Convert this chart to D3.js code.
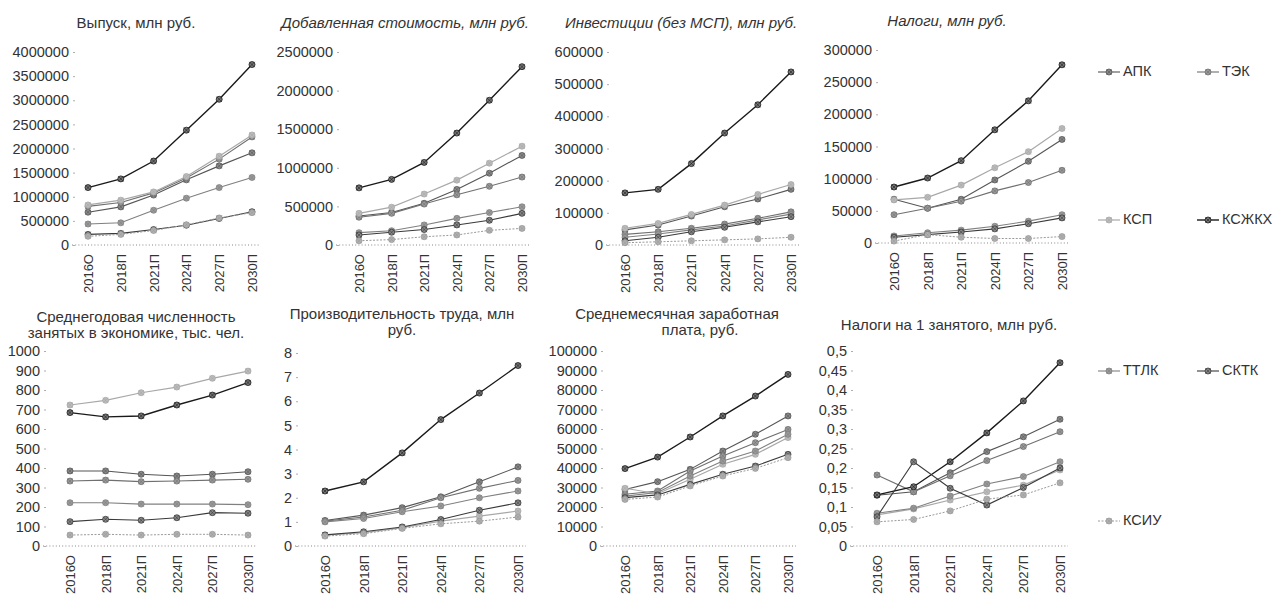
<!DOCTYPE html>
<html><head><meta charset="utf-8">
<script src="https://cdn.jsdelivr.net/npm/d3@7"></script>
<style>
body{margin:0;background:#fff;}
svg{font-family:"Liberation Sans",Arial,sans-serif;}
</style></head>
<body>
<svg id="c" width="1272" height="598"></svg>
<script>
const categories = ["2016О","2018П","2021П","2024П","2027П","2030П"];
const seriesNames = ["АПК","ТЭК","КСП","КСЖКХ","ТТЛК","СКТК","КСИУ"];

// values per series in order АПК, ТЭК, КСП, КСЖКХ, ТТЛК, СКТК, КСИУ
const vypusk = [
  [680000,790000,1035000,1350000,1640000,1910000],
  [800000,880000,1080000,1390000,1780000,2240000],
  [830000,930000,1100000,1420000,1840000,2280000],
  [1190000,1370000,1740000,2380000,3020000,3740000],
  [435000,460000,720000,970000,1190000,1400000],
  [220000,240000,320000,410000,550000,690000],
  [180000,220000,300000,420000,560000,670000]
];
const dobavl = [
  [375000,420000,540000,720000,930000,1160000],
  [360000,410000,530000,650000,760000,880000],
  [410000,490000,660000,840000,1060000,1280000],
  [740000,850000,1070000,1450000,1875000,2310000],
  [160000,185000,260000,345000,420000,495000],
  [130000,165000,200000,260000,320000,410000],
  [55000,70000,107000,130000,190000,215000]
];
const invest = [
  [47000,62000,90000,119000,143000,173000],
  [33000,41000,52000,65000,83000,103000],
  [52000,67000,95000,124000,157000,188000],
  [162000,173000,253000,348000,436000,538000],
  [24000,34000,47000,59000,78000,96000],
  [13000,24000,41000,55000,72000,88000],
  [7000,10000,13000,16000,19000,24000]
];
const nalogi = [
  [68000,54000,68000,98000,127000,161000],
  [44000,54000,65000,81000,94000,113000],
  [67000,71000,90000,117000,142000,178000],
  [87000,101000,128000,176000,221000,277000],
  [11000,16000,20000,26000,34000,44000],
  [9000,13000,17000,22000,30000,39000],
  [3000,13000,9000,7000,7000,10000]
];
const chislen = [
  [385,385,368,359,368,381],
  [333,338,330,333,338,342],
  [723,747,786,815,860,897],
  [684,662,667,723,774,838],
  [222,222,215,215,215,212],
  [125,137,132,145,171,168],
  [56,60,56,60,60,56]
];
const proizv = [
  [1.06,1.28,1.59,2.04,2.66,3.28],
  [1.03,1.2,1.48,2.0,2.39,2.72],
  [0.45,0.55,0.76,1.03,1.24,1.45],
  [2.28,2.66,3.86,5.24,6.34,7.48],
  [1.0,1.14,1.42,1.66,2.0,2.28],
  [0.46,0.59,0.79,1.1,1.48,1.79],
  [0.41,0.51,0.73,0.92,1.03,1.2]
];
const zarplata = [
  [29000,33000,39300,48700,57300,66700],
  [26500,28200,38500,46200,53000,59800],
  [29600,26800,34200,41900,47000,55600],
  [39700,45600,55900,66700,76900,88000],
  [25600,27400,35900,43600,48700,57300],
  [24800,26200,31600,36800,41000,47000],
  [23900,25100,30800,35900,39800,45300]
];
const nalNaZan = [
  [0.13,0.139,0.188,0.242,0.28,0.325],
  [0.182,0.139,0.18,0.219,0.255,0.293],
  [0.08,0.095,0.118,0.139,0.156,0.195],
  [0.131,0.152,0.216,0.29,0.372,0.47],
  [0.084,0.097,0.128,0.159,0.178,0.216],
  [0.075,0.216,0.148,0.105,0.15,0.2],
  [0.062,0.068,0.09,0.12,0.131,0.162]
];

const ticks1 = d3.range(0, 4000001, 500000);
const ticks2 = d3.range(0, 2500001, 500000);
const ticks3 = d3.range(0, 600001, 100000);
const ticks4 = d3.range(0, 300001, 50000);
const ticks5 = d3.range(0, 1001, 100);
const ticks6 = d3.range(0, 9, 1);
const ticks7 = d3.range(0, 100001, 10000);
const ticks8 = [0,0.05,0.1,0.15,0.2,0.25,0.3,0.35,0.4,0.45,0.5];

const styles = [
  {c:"#555", w:1.1, m:"#8a8a8a"},
  {c:"#707070", w:1.1, m:"#999"},
  {c:"#a8a8a8", w:1.2, m:"#bbb"},
  {c:"#1a1a1a", w:1.4, m:"#777"},
  {c:"#808080", w:1.1, m:"#9a9a9a"},
  {c:"#3a3a3a", w:1.1, m:"#888"},
  {c:"#9a9a9a", w:1.0, m:"#b0b0b0", dash:"2,1.5"}
];

const panels = [
  {title:[["Выпуск, млн руб.",136,24]], italic:false, lr:69, y0:245, yt:52, x0:88, x1:252, max:4000000, ticks:ticks1, data:vypusk},
  {title:[["Добавленная стоимость, млн руб.",405,24]], italic:true, lr:333, y0:245, yt:52, x0:359, x1:522, max:2500000, ticks:ticks2, data:dobavl},
  {title:[["Инвестиции (без МСП), млн руб.",681,24]], italic:true, lr:603, y0:245, yt:52, x0:625, x1:791, max:600000, ticks:ticks3, data:invest},
  {title:[["Налоги, млн руб.",947,22]], italic:true, lr:872, y0:243, yt:50, x0:894, x1:1062, max:300000, ticks:ticks4, data:nalogi},
  {title:[["Среднегодовая численность",136,318],["занятых в экономике, тыс. чел.",136,334]], italic:false, lr:40, y0:546, yt:351, x0:70, x1:248, max:1000, ticks:ticks5, data:chislen},
  {title:[["Производительность труда, млн",402,315],["руб.",402,331]], italic:false, lr:292, y0:546, yt:353, x0:325, x1:518, max:8, ticks:ticks6, data:proizv},
  {title:[["Среднемесячная заработная",677,315],["плата, руб.",700,331]], italic:false, lr:597, y0:546, yt:351, x0:625, x1:788, max:100000, ticks:ticks7, data:zarplata},
  {title:[["Налоги на 1 занятого, млн руб.",949,326]], italic:false, lr:847, y0:546, yt:351, x0:877, x1:1060, max:0.5, ticks:ticks8, data:nalNaZan}
];

const svg = d3.select("#c");
const fmt = v => String(+v.toFixed(4)).replace(".", ",");

function marker(g, x, y, s) {
  g.append("circle").attr("cx", x).attr("cy", y).attr("r", 3)
    .attr("fill", s.m).attr("stroke", s.c).attr("stroke-width", 0.8);
  g.append("path").attr("d", `M${x-2.7},${y-2.7}L${x+2.7},${y+2.7}M${x-2.7},${y+2.7}L${x+2.7},${y-2.7}`)
    .attr("stroke", s.c).attr("stroke-width", 0.6);
}

panels.forEach(p => {
  const g = svg.append("g");
  const x = d3.scalePoint().domain(categories).range([p.x0, p.x1]);
  const y = d3.scaleLinear().domain([0, p.max]).range([p.y0, p.yt]);

  p.title.forEach(t => {
    g.append("text").attr("x", t[1]).attr("y", t[2]).attr("text-anchor", "middle")
      .attr("dominant-baseline", "middle")
      .attr("font-size", 15).attr("fill", "#333")
      .attr("font-style", p.italic ? "italic" : "normal").text(t[0]);
  });

  const ya = d3.axisLeft(y).tickValues(p.ticks).tickSize(2).tickPadding(4).tickFormat(fmt);
  const yg = g.append("g").attr("transform", `translate(${p.lr + 6},0)`).call(ya);
  yg.select(".domain").remove();
  yg.selectAll(".tick line").attr("stroke", "#999").attr("stroke-width", 0.8);
  yg.selectAll("text").attr("font-size", 14.5).attr("fill", "#333")
    .attr("font-family", "Liberation Sans, Arial, sans-serif");

  g.append("line").attr("x1", p.lr + 3).attr("x2", p.x1 + 8)
    .attr("y1", y(0)).attr("y2", y(0))
    .attr("stroke", "#888").attr("stroke-width", 1).attr("stroke-dasharray", "1,2.2");

  const xa = d3.axisBottom(x).tickSize(0).tickPadding(0);
  const xg = g.append("g").attr("transform", `translate(0,${p.y0})`).call(xa);
  xg.select(".domain").remove();
  xg.selectAll("text").attr("font-size", 13).attr("fill", "#333")
    .attr("font-family", "Liberation Sans, Arial, sans-serif")
    .attr("text-anchor", "end").attr("transform", "translate(0,9) rotate(-90)")
    .attr("x", 0).attr("y", 0).attr("dy", "0.35em");

  const line = d3.line().x((d, i) => x(categories[i])).y(d => y(d));
  p.data.forEach((vals, si) => {
    const s = styles[si];
    g.append("path").attr("d", line(vals)).attr("fill", "none")
      .attr("stroke", s.c).attr("stroke-width", s.w)
      .attr("stroke-dasharray", s.dash || null);
    vals.forEach((v, i) => marker(g, x(categories[i]), y(v), s));
  });
});

const legendPos = [[1098,72],[1197,72],[1098,220],[1197,220],[1098,371],[1197,371],[1098,521]];
seriesNames.forEach((n, i) => {
  const [lx, ly] = legendPos[i];
  const s = styles[i];
  const g = svg.append("g");
  g.append("line").attr("x1", lx).attr("x2", lx + 22).attr("y1", ly).attr("y2", ly)
    .attr("stroke", s.c).attr("stroke-width", s.w).attr("stroke-dasharray", s.dash || null);
  marker(g, lx + 11, ly, s);
  g.append("text").attr("x", lx + 25).attr("y", ly).attr("dominant-baseline", "middle")
    .attr("font-size", 14.5).attr("fill", "#333").text(n);
});
</script>
</body></html>
